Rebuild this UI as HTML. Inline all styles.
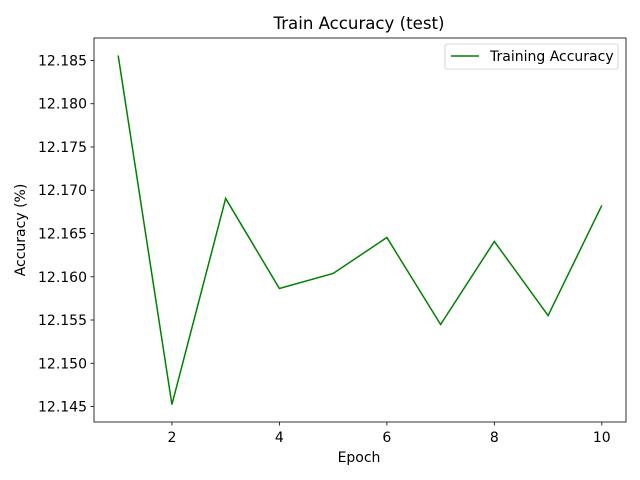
<!DOCTYPE html>
<html><head><meta charset="utf-8"><style>body{margin:0;background:#fff}svg{display:block;font-family:"DejaVu Sans","Liberation Sans",sans-serif}</style></head>
<body>
<svg id="chart" width="640" height="480">
<rect width="640" height="480" fill="#fff"/>
<text x="359" y="29" font-size="16.6" text-anchor="middle">Train Accuracy (test)</text>
<g id="plot"></g>
<rect x="94" y="38" width="532" height="384" fill="none" stroke="#000" stroke-width="0.8"/>
<text x="359" y="462" font-size="14" text-anchor="middle">Epoch</text>
<text transform="translate(25,230) rotate(-90)" font-size="14" text-anchor="middle">Accuracy (%)</text>
<g>
<rect x="445" y="44" width="173" height="25" rx="2" fill="#fff" stroke="#ccc" stroke-width="0.8"/>
<line x1="451" y1="56" x2="479" y2="56" stroke="green" stroke-width="1.5"/>
<text x="490" y="61" font-size="14">Training Accuracy</text>
</g>
</svg>
<script>
const epochs=[1,2,3,4,5,6,7,8,9,10];
const accuracy=[12.18558,12.14523,12.16905,12.15864,12.16038,12.16454,12.15448,12.16408,12.15552,12.16824];
const xTicks=[2,4,6,8,10];
const yTicks=[12.145,12.150,12.155,12.160,12.165,12.170,12.175,12.180,12.185];
const L=94,R=626,T=38,B=422;
const xmin=Math.min(...epochs),xmax=Math.max(...epochs),xm=(xmax-xmin)*0.05;
const ymin=Math.min(...accuracy),ymax=Math.max(...accuracy),ym=(ymax-ymin)*0.05;
const sx=v=>L+(v-(xmin-xm))/((xmax+xm)-(xmin-xm))*(R-L);
const sy=v=>B-(v-(ymin-ym))/((ymax+ym)-(ymin-ym))*(B-T);
const NS="http://www.w3.org/2000/svg";
const g=document.getElementById('plot');
function mk(t,a){const e=document.createElementNS(NS,t);for(const k in a)e.setAttribute(k,a[k]);g.appendChild(e);return e;}
xTicks.forEach(v=>{
const l=mk('line',{x1:sx(v),x2:sx(v),y1:B,y2:B+3.5,stroke:'#000','stroke-width':0.8});


const t=mk('text',{x:sx(v),y:B+20,'font-size':14,'text-anchor':'middle'});t.textContent=v;


});
yTicks.forEach(v=>{
const l=mk('line',{x1:L-3.5,x2:L,y1:sy(v),y2:sy(v),stroke:'#000','stroke-width':0.8});


const t=mk('text',{x:L-7,y:sy(v)+5,'font-size':14,'text-anchor':'end'});t.textContent=v.toFixed(3);


});
const p=mk('polyline',{points:epochs.map((e,i)=>sx(e)+','+sy(accuracy[i])).join(' '),fill:'none',stroke:'green','stroke-width':1.5});


</script>
</body></html>
